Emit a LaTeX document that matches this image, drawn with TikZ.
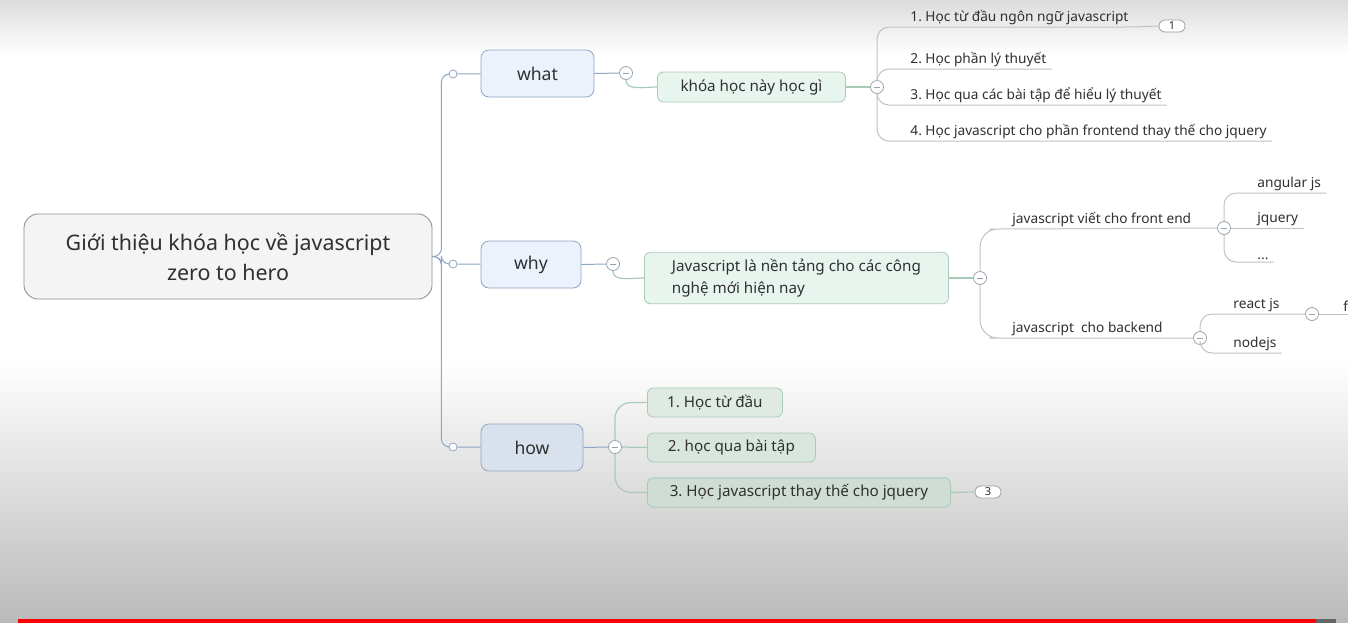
\documentclass[tikz,border=0pt]{standalone}
\usepackage{fontspec}
\setmainfont{Noto Sans}
\usetikzlibrary{positioning,calc,shapes.misc}
\definecolor{ink}{HTML}{303030}
\definecolor{mainfill}{HTML}{F4F4F4}
\definecolor{mainline}{HTML}{8C8C8C}
\definecolor{topicfill}{HTML}{EBF2FC}
\definecolor{howfill}{HTML}{D9E1EC}
\definecolor{topicline}{HTML}{8FA5C4}
\definecolor{subfill}{HTML}{E8F5EE}
\definecolor{hubfill}{HTML}{D9E6DE}
\definecolor{subline}{HTML}{A8CBB8}
\definecolor{leafline}{HTML}{C2C2C2}
\definecolor{foldline}{HTML}{98A2AC}
\tikzset{
  central/.style  = {draw=mainline, fill=mainfill, rounded corners=7pt, text=ink,
                     minimum width=204pt, minimum height=42.5pt, align=center,
                     font=\fontsize{10.7}{15}\selectfont},
  topic/.style    = {draw=topicline, fill=topicfill, rounded corners=4pt, text=ink,
                     minimum height=23.5pt, font=\fontsize{8.8}{11}\selectfont},
  subtopic/.style = {draw=subline, fill=subfill, rounded corners=3pt, text=ink,
                     minimum height=15pt, font=\fontsize{7.6}{11}\selectfont},
  leaf/.style     = {anchor=south west, inner xsep=2.5pt, inner ysep=0.9pt, text=ink,
                     font=\fontsize{6.85}{8}\selectfont},
  knob/.style     = {draw=topicline, fill=white, circle, inner sep=0pt, minimum size=4pt},
  fold/.style     = {draw=foldline, fill=white, circle, inner sep=0pt, minimum size=6.5pt,
                     path picture={\draw[foldline, line width=0.5pt]
                       ([xshift=-1.7pt]path picture bounding box.center) --
                       ([xshift=1.7pt]path picture bounding box.center);}},
  tally/.style    = {draw=foldline, fill=white, rounded rectangle, inner sep=0pt,
                     minimum width=13pt, minimum height=6pt, text=ink,
                     font=\fontsize{5.5}{6}\selectfont},
  trunk/.style    = {draw=topicline, line width=0.5pt, rounded corners=4pt},
  branch/.style   = {draw=subline, line width=0.6pt},
  twig/.style     = {draw=leafline, line width=0.5pt, rounded corners=6pt},
}
\begin{document}
\frenchspacing
\begin{tikzpicture}[x=0.5pt, y=-0.5pt]
\useasboundingbox (0,0) rectangle (1348,623);
% background
\fill[white] (0,0) rectangle (1348,623);
\shade[top color={rgb,255:red,220;green,220;blue,220}, bottom color=white] (0,0) rectangle (1348,55);
\shade[top color=white, bottom color={rgb,255:red,187;green,187;blue,187}] (0,360) rectangle (1348,619);
\fill[gray!55] (0,619) rectangle (1348,623);
\fill[red] (18,619) rectangle (1316,623);
\fill[black!60] (1316,619) rectangle (1336,623);

% main topic and topics
\node[central] (main) at (228,256.5) {Giới thiệu khóa học về javascript\\zero to hero};
\node[topic, minimum width=56.5pt] (what) at (537.5,73.5) {what};
\node[topic, minimum width=50pt] (why) at (531,264.5) {why};
\node[topic, minimum width=51pt, fill=howfill] (how) at (532,447.5) {how};
\node[knob] (kwhat) at (453,74) {};
\node[knob] (kwhy) at (453,264) {};
\node[knob] (khow) at (453,447) {};
\draw[trunk] (main.east) -- ++(9,0) |- (kwhat.west);
\draw[trunk] (main.east) -- ++(9,0) |- (kwhy.west);
\draw[trunk] (main.east) -- ++(9,0) |- (khow.west);
\draw[trunk] (kwhat) -- (what);
\draw[trunk] (kwhy) -- (why);
\draw[trunk] (khow) -- (how);

% what
\node[fold] (fwhat) at (626,73) {};
\node[subtopic, anchor=west, minimum width=94pt] (course) at (657,87) {khóa học này học gì};
\node[fold] (fcourse) at (877,87) {};
\draw[trunk] (what.east) -- (fwhat.west);
\draw[branch] (fwhat.south) .. controls +(0,11) and +(-14,0) .. (course.west);
\draw[branch] (course.east) -- (fcourse.west);
\node[leaf] (c1) at (905,27) {1. Học từ đầu ngôn ngữ javascript};
\node[leaf] (c2) at (905,69) {2. Học phần lý thuyết};
\node[leaf] (c3) at (905,105) {3. Học qua các bài tập để hiểu lý thuyết};
\node[leaf] (c4) at (905,141) {4. Học javascript cho phần frontend thay thế cho jquery};
\node[tally] (t1) at (1172,26) {1};
\draw[twig] (fcourse.north) |- (c1.south west) -- (c1.south east) -- (t1.west);
\draw[twig] (fcourse.north) |- (c2.south west) -- (c2.south east);
\draw[twig] (fcourse.south) |- (c3.south west) -- (c3.south east);
\draw[twig] (fcourse.south) |- (c4.south west) -- (c4.south east);

% why
\node[fold] (fwhy) at (613,264) {};
\node[subtopic, anchor=west, minimum width=152pt, minimum height=25pt, align=left] (base) at (644,278)
  {Javascript là nền tảng cho các công\\nghệ mới hiện nay};
\node[fold] (fbase) at (980,278) {};
\draw[trunk] (why.east) -- (fwhy.west);
\draw[branch] (fwhy.south) .. controls +(0,11) and +(-14,0) .. (base.west);
\draw[branch] (base.east) -- (fbase.west);
\node[leaf] (front) at (1007,229) {javascript viết cho front end};
\node[leaf] (back) at (1007,338) {javascript\ \ cho backend};
\node[fold] (ffront) at (1224,228) {};
\node[fold] (fback) at (1200,338) {};
\draw[twig, rounded corners=9pt] (fbase.north) |- (front.south west) -- (ffront.west);
\draw[twig, rounded corners=9pt] (fbase.south) |- (back.south west) -- (fback.west);
\node[leaf] (ng) at (1252,193) {angular js};
\node[leaf] (jq) at (1252,228) {jquery};
\node[leaf] (etc) at (1252,262) {...};
\draw[twig] (ffront.north) |- (ng.south west) -- (ng.south east);
\draw[twig] (ffront.east) -- (jq.south west) -- (jq.south east);
\draw[twig] (ffront.south) |- (etc.south west) -- (etc.south east);
\node[leaf] (react) at (1228,314) {react js};
\node[leaf] (node) at (1228,353) {nodejs};
\node[fold] (freact) at (1312,314) {};
\node[leaf] (fr) at (1338,314) {f};
\draw[twig] (fback.north) |- (react.south west) -- (freact.west);
\draw[twig] (fback.south) |- (node.south west) -- (node.south east);
\draw[twig] (freact.east) -- (fr.south west) -- (fr.south east);

% how
\node[fold] (fhow) at (615,447) {};
\node[subtopic, anchor=west, minimum width=67.5pt, minimum height=14.5pt, fill=hubfill!85!white] (h1) at (647,402.5) {1. Học từ đầu};
\node[subtopic, anchor=west, minimum width=84pt, minimum height=14.5pt, fill=hubfill] (h2) at (647,447.5) {2. học qua bài tập};
\node[subtopic, anchor=west, minimum width=151.5pt, minimum height=14.5pt, fill=hubfill!96!black] (h3) at (647,492.5) {3. Học javascript thay thế cho jquery};
\node[tally] (t3) at (988,492) {3};
\draw[trunk] (how.east) -- (fhow.west);
\draw[branch, rounded corners=8pt] (fhow.north) |- (h1.west);
\draw[branch] (fhow.east) -- (h2.west);
\draw[branch, rounded corners=8pt] (fhow.south) |- (h3.west);
\draw[branch] (h3.east) -- (t3.west);
\end{tikzpicture}
\end{document}
